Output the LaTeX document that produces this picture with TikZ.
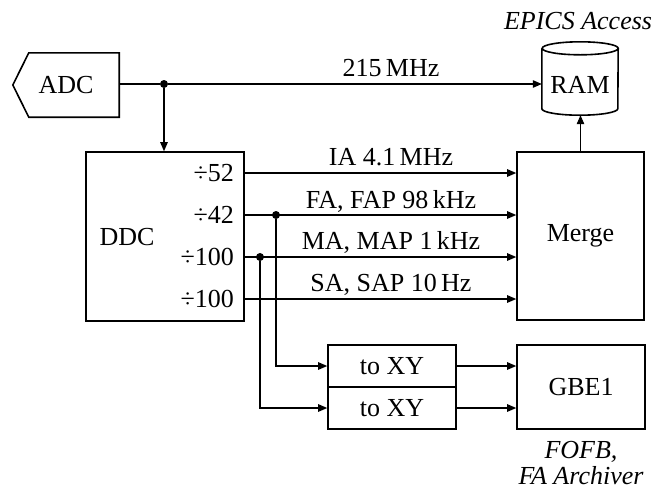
\documentclass[tikz,border=0pt]{standalone}
\usepackage{fontspec}
\setmainfont{Liberation Serif}
\usetikzlibrary{arrows.meta,calc}
\begin{document}
\begin{tikzpicture}[x=1pt,y=-1pt,
  every node/.style={font=\fontsize{26}{26}\selectfont},
  it/.style={font=\fontsize{26}{26}\selectfont\itshape, align=center},
  box/.style={draw, line width=1.6pt, rectangle, inner sep=0pt},
  hidden/.style={rectangle, inner sep=0pt},
  wire/.style={line width=1.1pt},
  conn/.style={line width=1.1pt, -{Triangle[length=9pt,width=7.5pt]}},
  dot/.style={circle, fill, inner sep=0pt, minimum size=8pt},
  lbl/.style={anchor=base, inner sep=0pt},
  div/.style={anchor=east, inner sep=0pt}
]
\useasboundingbox (0,0) rectangle (669,491);

% ADC tag shape
\node[hidden, minimum width=106pt, minimum height=64pt] (adc) at (66,85) {ADC};
\draw[line width=1.6pt, line join=miter]
  (adc.north east) -- ($(adc.north west)+(16,0)$) -- (adc.west)
  -- ($(adc.south west)+(16,0)$) -- (adc.south east) -- cycle;

% RAM cylinder
\node[hidden, minimum width=76pt, minimum height=60pt] (ram) at (580,85) {RAM};
\draw[line width=1.6pt]
  ([yshift=6.5pt]ram.north west) -- ([yshift=6.5pt]ram.south west)
  arc[start angle=180, end angle=360, x radius=38pt, y radius=6.5pt]
  -- ([yshift=6.5pt]ram.north east)
  arc[start angle=0, end angle=360, x radius=38pt, y radius=6.5pt];
\node[it] (epics) at (578,21) {EPICS Access};

% main boxes
\node[box, minimum width=158pt, minimum height=169pt] (ddc) at (165,236.5) {};
\node (ddclbl) at (127,237) {DDC};
\node[box, minimum width=127pt, minimum height=168pt] (merge) at (580.5,236) {Merge};
\node[box, minimum width=128pt, minimum height=42pt] (xy1) at (392,366) {to XY};
\node[box, minimum width=128pt, minimum height=42pt] (xy2) at (392,408) {to XY};
\node[box, minimum width=128pt, minimum height=84pt] (gbe) at (581,387) {GBE1};
\node[it] (fofb) at (581,463) {FOFB,\\FA Archiver};

% divider labels
\node[div] (d1) at (234,173) {÷52};
\node[div] (d2) at (234,215) {÷42};
\node[div] (d3) at (234,257) {÷100};
\node[div] (d4) at (234,299) {÷100};

% ADC output
\node[dot] (j1) at (164,84) {};
\draw[wire] (adc.east |- j1) -- (j1);
\draw[conn] (j1) -- (j1 -| ram.west);
\draw[conn] (j1) -- (j1 |- ddc.north);
\node[lbl] (l0) at (391,76) {215\,MHz};

% DDC outputs
\draw[conn] (d1 -| ddc.east) -- (d1 -| merge.west);
\draw[conn] (d2 -| ddc.east) -- (d2 -| merge.west);
\draw[conn] (d3 -| ddc.east) -- (d3 -| merge.west);
\draw[conn] (d4 -| ddc.east) -- (d4 -| merge.west);
\node[lbl] (l1) at (391,165) {IA 4.1\,MHz};
\node[lbl] (l2) at (391,208) {FA, FAP 98\,kHz};
\node[lbl] (l3) at (391,249) {MA, MAP 1\,kHz};
\node[lbl] (l4) at (391,291) {SA, SAP 10\,Hz};

% taps
\node[dot] (j2) at (276,215) {};
\node[dot] (j3) at (260,257) {};
\draw[conn] (j2) |- (xy1.west);
\draw[conn] (j3) |- (xy2.west);
\draw[conn] (xy1.east) -- (xy1.east -| gbe.west);
\draw[conn] (xy2.east) -- (xy2.east -| gbe.west);

% merge to RAM
\draw[conn] (merge.north) -- (merge.north |- ram.south);
\end{tikzpicture}
\end{document}
